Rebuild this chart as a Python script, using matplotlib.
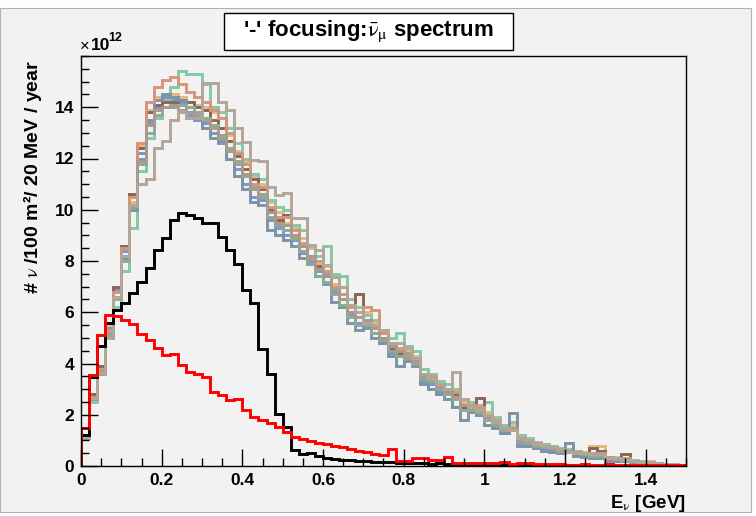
import matplotlib
matplotlib.use("Agg")
import matplotlib.pyplot as plt
from matplotlib.patches import Rectangle
from matplotlib.ticker import MultipleLocator
import numpy as np

plt.rcParams['font.family'] = ['Liberation Sans', 'DejaVu Sans']

# 20 MeV bins from 0 to 1.5 GeV, values in units of 1e12
bin_width = 0.02
n_bins = 75

blue = [1.1, 2.7, 3.8, 5.4, 6.9, 8.4, 10.1, 12.2, 13.4, 14.0, 14.4, 14.3, 14.2, 13.7, 13.5,
        13.4, 13.0, 12.6, 12.0, 11.6, 11.0, 10.5, 10.4, 9.6, 9.3, 9.0, 8.8, 8.3, 8.0, 7.6,
        7.4, 6.8, 6.2, 5.9, 5.6, 5.5, 5.2, 4.9, 4.4, 4.3, 4.2, 4.0, 3.3, 3.2, 2.9,
        2.8, 2.3, 2.3, 2.2, 2.2, 1.9, 1.6, 1.3, 1.4, 0.9, 0.9, 0.8, 0.7, 0.6, 0.6,
        0.55, 0.45, 0.4, 0.45, 0.4, 0.3, 0.3, 0.25, 0.15, 0.15, 0.12, 0.1, 0.07, 0.05, 0.04]
amber = [1.2, 2.8, 3.9, 5.5, 6.8, 8.0, 10.3, 12.5, 13.9, 14.4, 14.5, 14.5, 14.4, 14.2, 14.1,
         14.0, 13.8, 13.2, 12.9, 12.3, 11.9, 11.3, 11.0, 10.3, 9.9, 9.5, 9.3, 8.9, 8.5, 7.9,
         7.8, 7.1, 6.7, 6.2, 6.0, 6.0, 5.6, 5.2, 4.8, 4.5, 4.5, 4.3, 3.6, 3.5, 3.0,
         3.0, 2.9, 2.5, 2.4, 2.3, 2.1, 1.8, 1.5, 1.6, 1.1, 1.0, 0.9, 0.8, 0.8, 0.7,
         0.6, 0.6, 0.55, 0.8, 0.8, 0.35, 0.35, 0.3, 0.2, 0.2, 0.18, 0.12, 0.08, 0.06, 0.05]
mint = [1.1, 2.5, 3.6, 5.0, 6.2, 7.6, 9.3, 11.5, 12.8, 13.6, 14.3, 14.8, 15.4, 15.3, 15.3,
        14.9, 14.0, 13.8, 13.2, 12.6, 12.0, 11.4, 11.2, 10.4, 10.1, 10.0, 9.4, 9.2, 8.6, 8.2,
        8.6, 7.5, 7.4, 6.5, 6.2, 5.9, 5.7, 5.3, 5.0, 5.2, 4.7, 4.5, 3.8, 3.6, 3.3,
        3.2, 3.0, 2.6, 2.5, 2.4, 2.5, 1.9, 1.6, 1.7, 1.2, 1.1, 0.95, 0.85, 0.8, 0.7,
        0.65, 0.6, 0.5, 0.5, 0.45, 0.35, 0.3, 0.3, 0.22, 0.18, 0.17, 0.12, 0.08, 0.06, 0.05]
brown = [1.2, 2.8, 3.9, 5.6, 7.0, 8.6, 10.6, 12.4, 13.8, 14.1, 14.2, 14.2, 14.3, 14.2, 14.0,
         13.9, 13.5, 13.2, 12.7, 12.1, 11.6, 11.2, 10.8, 10.0, 9.6, 9.8, 9.0, 8.6, 8.2, 7.8,
         7.6, 7.0, 6.5, 6.0, 6.7, 5.7, 5.4, 5.0, 4.6, 4.4, 4.3, 4.1, 3.4, 3.3, 3.0,
         2.9, 2.8, 2.3, 2.3, 2.65, 1.9, 1.7, 1.5, 1.5, 1.0, 1.0, 0.85, 0.8, 0.7, 0.65,
         0.6, 0.55, 0.5, 0.7, 0.6, 0.35, 0.3, 0.48, 0.2, 0.15, 0.15, 0.1, 0.08, 0.05, 0.05]
slate = [1.1, 2.6, 3.7, 5.1, 6.6, 8.1, 10.0, 12.0, 13.5, 14.3, 14.5, 14.4, 14.3, 14.0, 13.6,
         13.2, 12.8, 12.7, 12.0, 11.3, 10.8, 10.3, 10.2, 9.2, 9.0, 8.8, 8.6, 8.1, 7.9, 7.4,
         7.1, 6.4, 6.2, 5.6, 5.3, 5.4, 5.0, 4.8, 4.3, 3.9, 4.1, 3.9, 3.2, 3.0, 2.8,
         2.6, 2.3, 1.8, 2.1, 2.0, 1.6, 1.5, 1.3, 2.05, 0.8, 0.8, 0.7, 0.6, 0.55, 0.5,
         0.88, 0.4, 0.35, 0.3, 0.3, 0.2, 0.2, 0.2, 0.12, 0.1, 0.1, 0.08, 0.05, 0.05, 0.04]
salmon = [1.1, 2.7, 3.8, 5.3, 6.8, 8.5, 10.5, 12.6, 14.2, 14.8, 15.05, 15.2, 14.9, 14.6, 14.4,
          14.2, 13.9, 13.6, 13.0, 12.2, 11.8, 11.0, 10.9, 10.1, 9.7, 9.7, 9.2, 8.7, 8.1, 8.0,
          7.6, 7.0, 6.7, 6.2, 6.0, 6.2, 6.08, 5.2, 4.7, 4.6, 4.3, 4.2, 3.5, 3.5, 3.1,
          3.0, 2.9, 2.4, 2.4, 2.3, 2.0, 1.8, 1.5, 1.5, 1.1, 1.0, 0.9, 0.8, 0.75, 0.65,
          0.6, 0.55, 0.5, 0.5, 0.5, 0.35, 0.32, 0.3, 0.2, 0.17, 0.15, 0.12, 0.08, 0.06, 0.05]
sage = [1.1, 2.6, 3.6, 5.1, 6.5, 8.0, 10.1, 11.8, 13.0, 13.7, 14.0, 14.1, 14.1, 14.0, 13.8,
        13.6, 13.3, 12.9, 12.4, 11.9, 11.3, 10.8, 10.6, 9.7, 9.4, 9.2, 8.9, 8.4, 7.9, 7.4,
        7.2, 6.7, 6.3, 5.8, 5.5, 5.5, 5.2, 4.9, 4.5, 4.3, 4.2, 4.0, 3.4, 3.3, 3.0,
        2.8, 2.6, 2.2, 2.2, 2.1, 1.8, 1.6, 1.4, 1.4, 0.95, 0.9, 0.8, 0.75, 0.7, 0.6,
        0.55, 0.5, 0.45, 0.4, 0.4, 0.3, 0.28, 0.25, 0.18, 0.15, 0.14, 0.1, 0.07, 0.05, 0.04]
taupe = [1.1, 2.6, 3.7, 5.2, 6.6, 8.2, 10.2, 11.9, 13.3, 13.9, 14.0, 14.0, 13.9, 13.8, 13.7,
         13.5, 13.2, 12.8, 12.3, 11.8, 11.4, 10.9, 10.5, 9.9, 9.5, 9.4, 9.0, 8.6, 8.2, 7.7,
         7.5, 6.9, 6.5, 6.0, 5.8, 5.7, 5.4, 5.0, 4.7, 4.5, 4.4, 4.1, 3.5, 3.4, 3.1,
         2.9, 2.7, 2.4, 2.3, 2.2, 1.9, 1.7, 1.45, 1.5, 1.0, 0.95, 0.85, 0.8, 0.7, 0.65,
         0.6, 0.5, 0.5, 0.45, 0.45, 0.32, 0.3, 0.28, 0.2, 0.16, 0.15, 0.11, 0.08, 0.05, 0.05]
tan = [1.15, 2.64, 3.62, 5.0, 6.6, 8.2, 10.2, 11.0, 11.2, 12.4, 12.7, 13.5, 13.8, 13.6, 13.6,
       14.95, 14.95, 14.2, 13.9, 13.2, 12.65, 11.93, 11.9, 10.9, 10.57, 10.64, 9.67, 9.67, 8.62, 8.42,
       7.84, 7.38, 7.0, 6.3, 6.0, 5.6, 5.5, 5.3, 4.8, 4.8, 4.6, 4.2, 3.6, 3.4, 3.2,
       3.0, 3.68, 2.6, 2.3, 2.2, 2.0, 1.7, 1.5, 1.4, 1.1, 1.0, 0.85, 0.8, 0.75, 0.65,
       0.55, 0.5, 0.5, 0.45, 0.45, 0.3, 0.3, 0.25, 0.2, 0.15, 0.14, 0.1, 0.07, 0.05, 0.05]

black = [1.2, 3.48, 4.7, 5.58, 6.08, 6.35, 6.74, 7.19, 7.72, 8.42, 8.9, 9.6, 9.86, 9.8, 9.67,
         9.49, 9.47, 8.95, 8.42, 7.9, 6.86, 6.35, 4.56, 3.59, 2.03, 1.53, 0.62, 0.47, 0.52, 0.39,
         0.3, 0.28, 0.25, 0.22, 0.2, 0.18, 0.16, 0.14, 0.15, 0.12, 0.1, 0.12, 0.1, 0.08, 0.1,
         0.07, 0.06, 0.08, 0.05, 0.06, 0.04, 0.05, 0.03, 0.04, 0.03, 0.03, 0.02, 0.03, 0.02, 0.02,
         0.02, 0.01, 0.02, 0.01, 0.01, 0.01, 0.01, 0.01, 0.01, 0.0, 0.0, 0.0, 0.0, 0.0, 0.0]
red = [1.49, 3.55, 5.11, 5.89, 5.86, 5.69, 5.54, 5.17, 4.91, 4.59, 4.33, 4.39, 3.94, 3.68, 3.59,
       3.48, 2.9, 2.77, 2.57, 2.6, 2.18, 1.92, 1.79, 1.66, 1.53, 1.34, 1.14, 1.04, 0.99, 0.91,
       0.86, 0.8, 0.75, 0.68, 0.6, 0.55, 0.47, 0.42, 0.68, 0.2, 0.2, 0.3, 0.3, 0.25, 0.25,
       0.35, 0.12, 0.12, 0.1, 0.12, 0.1, 0.1, 0.15, 0.08, 0.1, 0.12, 0.07, 0.06, 0.08, 0.06,
       0.05, 0.05, 0.07, 0.05, 0.04, 0.06, 0.04, 0.04, 0.03, 0.04, 0.03, 0.03, 0.03, 0.02, 0.02]

colored = [
    (blue, '#7595d6'),
    (amber, '#e6b87a'),
    (mint, '#84c9a4'),
    (brown, '#8b6553'),
    (slate, '#7b93a6'),
    (salmon, '#d6957a'),
    (sage, '#8eaa92'),
    (taupe, '#a89a8c'),
    (tan, '#b3a597'),
]

edges = np.arange(n_bins + 1) * bin_width

fig = plt.figure(figsize=(7.56, 5.16), dpi=100)
fig.patch.set_facecolor('white')
fig.patches.append(Rectangle((0, 4 / 516), 751 / 756, 504 / 516, transform=fig.transFigure,
                             facecolor='#f2f2f2', edgecolor='#b0b0b0', lw=0.8, zorder=-10))

ax = fig.add_axes([81 / 756, 50 / 516, 605 / 756, 410 / 516])
ax.set_facecolor('#f2f2f2')

for vals, col in colored:
    ax.stairs(vals, edges, color=col, lw=2.1)
ax.stairs(black, edges, color='black', lw=2.1)
ax.stairs(red, edges, color='#ff0000', lw=2.1)

ax.set_xlim(0, 1.5)
ax.set_ylim(0, 16)

ax.xaxis.set_minor_locator(MultipleLocator(0.05))
ax.yaxis.set_minor_locator(MultipleLocator(0.5))
ax.set_xticks([0, 0.2, 0.4, 0.6, 0.8, 1.0, 1.2, 1.4])
ax.set_xticklabels(['0', '0.2', '0.4', '0.6', '0.8', '1', '1.2', '1.4'])
ax.set_yticks(range(0, 16, 2))
ax.set_yticklabels([str(v) for v in range(0, 16, 2)])

ax.tick_params(which='both', direction='in', top=False, right=False, width=1)
ax.tick_params(which='major', length=12, labelsize=12.5, pad=5)
ax.tick_params(which='minor', length=6)
for lab in ax.get_xticklabels() + ax.get_yticklabels():
    lab.set_fontweight('bold')
for sp in ax.spines.values():
    sp.set_linewidth(1)

# exponent label
fig.text(80 / 756, 1 - 46 / 516, '×', fontsize=12, ha='left', va='center')
fig.text(91 / 756, 1 - 46 / 516, '10', fontsize=12.5, fontweight='bold', ha='left', va='center')
fig.text(108.5 / 756, 1 - 38 / 516, '12', fontsize=9, fontweight='bold', ha='left', va='center')

# title box
fig.patches.append(Rectangle((224 / 756, 1 - 50 / 516), 289 / 756, 37 / 516,
                             transform=fig.transFigure, facecolor='white',
                             edgecolor='black', lw=1, zorder=5))
fig.text(368 / 756, 1 - 31 / 516, r"'-' focusing:$\bar{\mathrm{\nu}}_{\mathrm{\mu}}$ spectrum",
         fontsize=16, fontweight='bold', ha='center', va='center', math_fontfamily='stix',
         zorder=6)

fig.text(33 / 756, 1 - 60 / 516, r"# $\mathrm{\nu}$ /100 m²/ 20 MeV / year", fontsize=14,
         fontweight='bold', rotation=90, ha='center', va='top', math_fontfamily='stix')

fig.text(686 / 756, 1 - 504 / 516, r"E$_{\mathrm{\nu}}$ [GeV]", fontsize=13.5, fontweight='bold',
         ha='right', va='center', math_fontfamily='stix')

fig.savefig('out.png', dpi=100)
